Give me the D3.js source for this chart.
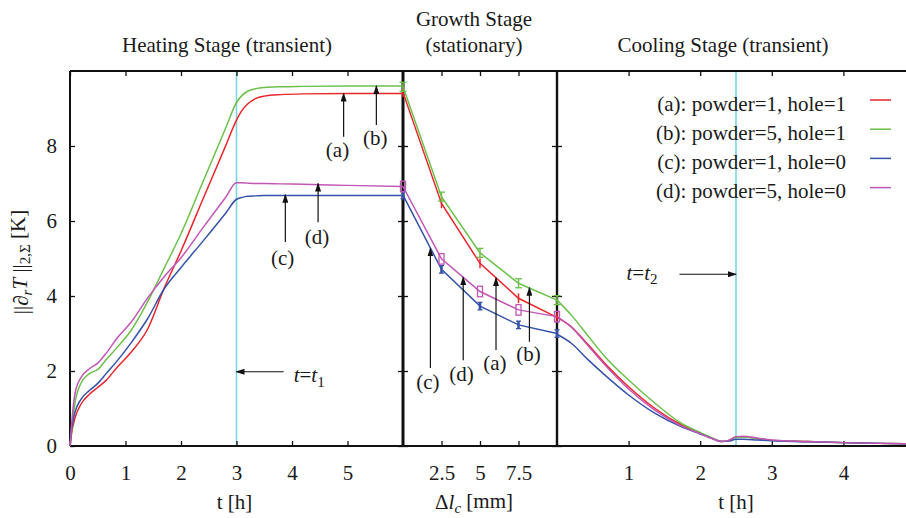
<!DOCTYPE html>
<html>
<head>
<meta charset="utf-8">
<script src="https://cdn.jsdelivr.net/npm/d3@7"></script>
<style>
body{margin:0;background:#fff;}
svg text{font-family:"Liberation Serif","Times New Roman",serif;font-size:21px;fill:#1a1a1a;}
</style>
</head>
<body>
<svg id="chart" width="906" height="518"></svg>
<script>
// series labels + colours
var seriesNames = ["(a): powder=1, hole=1", "(b): powder=5, hole=1", "(c): powder=1, hole=0", "(d): powder=5, hole=0"];
var seriesColors = ["#e8262b", "#6cc04a", "#3452a8", "#c056b5"];

// heating stage, t [h]
var heatT = [0,0.03,0.09,0.2,0.35,0.5,0.65,0.85,1.1,1.4,1.7,2.0,2.4,2.8,3.0,3.1,3.2,3.35,3.5,3.8,4.2,5,6];
var heatA = [0,0.35,0.75,1.12,1.38,1.56,1.75,2.1,2.5,3.12,4.22,5.2,6.6,7.99,8.69,8.95,9.12,9.27,9.33,9.37,9.39,9.4,9.4];
var heatB = [0,0.4,1.15,1.68,1.93,2.04,2.3,2.63,3.08,3.85,4.75,5.66,7.06,8.46,9.16,9.35,9.46,9.53,9.56,9.58,9.59,9.6,9.6];
var heatC = [0,0.45,0.9,1.25,1.48,1.67,1.93,2.27,2.75,3.4,4.2,4.76,5.47,6.2,6.58,6.63,6.66,6.67,6.68,6.68,6.68,6.68,6.68];
var heatD = [0,0.6,1.4,1.83,2.06,2.21,2.47,2.88,3.3,3.95,4.52,5.02,5.83,6.62,7.02,7.02,7.01,7.0,7.0,6.99,6.98,6.95,6.92];

// growth stage, delta l_c [mm]
var growthX = [0,2.5,5,7.5,10];
var growthA = [9.43,6.47,4.87,3.94,3.43];
var growthB = [9.58,6.65,5.15,4.34,3.89];
var growthC = [6.69,4.71,3.73,3.23,3.0];
var growthD = [6.92,4.99,4.12,3.63,3.45];
var growthErr = [0.13,0.12,0.1,0.14];

// cooling stage, t [h]
var coolT = [0,0.2,0.44,0.67,1.0,1.37,1.74,2.0,2.15,2.3,2.4,2.5,2.6,2.8,3.0,3.5,4.0,4.5,5.0];
var coolA = [3.43,3.18,2.69,2.2,1.58,1.0,0.56,0.34,0.22,0.12,0.15,0.24,0.25,0.2,0.15,0.12,0.09,0.07,0.06];
var coolB = [3.89,3.49,2.92,2.38,1.76,1.14,0.6,0.36,0.23,0.12,0.15,0.23,0.24,0.2,0.15,0.12,0.09,0.07,0.06];
var coolC = [2.98,2.74,2.29,1.89,1.36,0.87,0.51,0.32,0.21,0.12,0.13,0.18,0.18,0.16,0.14,0.11,0.09,0.07,0.06];
var coolD = [3.45,3.17,2.66,2.16,1.52,0.95,0.53,0.33,0.21,0.12,0.15,0.25,0.26,0.21,0.16,0.12,0.09,0.07,0.06];

// t1 and t2
var t1 = 3;
var t2 = 2.5;

// ticks
var yTicks = [0,2,4,6,8];
var heatTicks = [0,1,2,3,4,5];
var growthTicks = [2.5,5,7.5];
var coolTicks = [1,2,3,4];

// annotations: [x0, y0, x1, y1] in data units (tip is x1,y1)
var heatArrows = [[4.93,8.25,4.93,9.4],[5.52,8.56,5.52,9.6],[3.88,5.44,3.88,6.7],[4.47,5.97,4.47,7.0],[3.85,1.98,3.0,1.98]];
var heatLabels = [["(a)",4.82,7.84],["(b)",5.5,8.17],["(c)",3.83,4.96],["(d)",4.45,5.53]];
var growthArrows = [[1.78,2.08,1.78,5.27],[3.91,2.29,3.91,4.5],[6.04,2.56,6.04,4.48],[8.21,2.78,8.21,4.22]];
var growthLabels = [["(c)",1.62,1.67],["(d)",3.8,1.88],["(a)",5.97,2.16],["(b)",8.15,2.42]];
var coolArrows = [[1.71,4.58,2.5,4.58]];

var svg = d3.select("#chart");
var top0 = 71, bot0 = 446;

var y = d3.scaleLinear().domain([0,10]).range([bot0, top0]);
var x1 = d3.scaleLinear().domain([0,6]).range([70,403]);
var x2 = d3.scaleLinear().domain([0,10]).range([403,557]);
var x3 = d3.scaleLinear().domain([0,5]).range([557,915]);

svg.append("defs").append("marker")
  .attr("id","arr").attr("markerUnits","userSpaceOnUse")
  .attr("markerWidth",9).attr("markerHeight",6).attr("refX",8).attr("refY",3)
  .attr("orient","auto")
  .append("path").attr("d","M0,0L9,3L0,6Z").attr("fill","#111");

// stage lines (cyan)
svg.append("line").attr("x1",x1(t1)).attr("x2",x1(t1)).attr("y1",y(0)).attr("y2",y(10))
  .attr("stroke","#7dd3e3").attr("stroke-width",1.6);
svg.append("line").attr("x1",x3(t2)).attr("x2",x3(t2)).attr("y1",y(0)).attr("y2",y(10))
  .attr("stroke","#7dd3e3").attr("stroke-width",1.6);

// axes ---------------------------------------------------------
var tickStyle = function(g){
  g.select(".domain").remove();
  g.selectAll("line").attr("stroke","#111").attr("stroke-width",1.3);
  g.selectAll("text").attr("fill","#1a1a1a").style("font-size","21px")
   .style("font-family","'Liberation Serif',serif");
}

var bottomAxis = function(sc, vals){
  svg.append("g").attr("transform","translate(0,"+bot0+")")
    .call(d3.axisBottom(sc).tickValues(vals).tickSizeInner(-5).tickSizeOuter(0).tickPadding(19).tickFormat(d3.format("")))
    .call(tickStyle);
  svg.append("g").attr("transform","translate(0,"+top0+")")
    .call(d3.axisTop(sc).tickValues(vals).tickSizeInner(-5).tickSizeOuter(0).tickFormat(""))
    .call(tickStyle);
}
bottomAxis(x1, heatTicks);
bottomAxis(x2, growthTicks);
bottomAxis(x3, coolTicks);

svg.append("g").attr("transform","translate(70,0)")
  .call(d3.axisLeft(y).tickValues(yTicks).tickSizeInner(-5).tickSizeOuter(0).tickPadding(13))
  .call(tickStyle);
svg.selectAll("g text").filter(function(){return false;});

// ticks on panel edges (both sides of separators)
[403,557].forEach(function(xx){
  svg.append("g").attr("transform","translate("+xx+",0)")
    .call(d3.axisLeft(y).tickValues(yTicks).tickSizeInner(-5).tickSizeOuter(0).tickFormat(""))
    .call(tickStyle);
  svg.append("g").attr("transform","translate("+xx+",0)")
    .call(d3.axisRight(y).tickValues(yTicks).tickSizeInner(-5).tickSizeOuter(0).tickFormat(""))
    .call(tickStyle);
});

// frame
svg.append("line").attr("x1",70).attr("x2",906).attr("y1",top0).attr("y2",top0).attr("stroke","#111").attr("stroke-width",2);
svg.append("line").attr("x1",70).attr("x2",906).attr("y1",bot0).attr("y2",bot0).attr("stroke","#111").attr("stroke-width",2);
svg.append("line").attr("x1",70).attr("x2",70).attr("y1",top0).attr("y2",bot0).attr("stroke","#111").attr("stroke-width",2);
svg.append("line").attr("x1",403).attr("x2",403).attr("y1",top0).attr("y2",bot0).attr("stroke","#111").attr("stroke-width",3);
svg.append("line").attr("x1",557).attr("x2",557).attr("y1",top0).attr("y2",bot0).attr("stroke","#111").attr("stroke-width",2.4);

// curves -------------------------------------------------------
var drawSeries = function(xs, xv, list, curve){
  list.forEach(function(vals,i){
    var pts = xv.map(function(d,j){return [d, vals[j]];});
    var line = d3.line().x(function(d){return xs(d[0]);}).y(function(d){return y(d[1]);}).curve(curve);
    svg.append("path").datum(pts).attr("d",line)
      .attr("fill","none").attr("stroke",seriesColors[i]).attr("stroke-width",1.5);
  });
}
drawSeries(x1, heatT, [heatA,heatB,heatC,heatD], d3.curveMonotoneX);
drawSeries(x3, coolT, [coolA,coolB,coolC,coolD], d3.curveMonotoneX);
drawSeries(x2, growthX, [growthA,growthB,growthC,growthD], d3.curveLinear);

// error markers in growth stage
[growthA,growthB,growthC,growthD].forEach(function(vals,i){
  var e = growthErr[i], col = seriesColors[i];
  var g = svg.append("g");
  growthX.forEach(function(xv,j){
    var cx = x2(xv), ya = y(vals[j]+e), yb = y(vals[j]-e);
    if (i==3){
      g.append("rect").attr("x",cx-2.5).attr("y",ya).attr("width",5).attr("height",yb-ya)
        .attr("fill","none").attr("stroke",col).attr("stroke-width",1.3);
      return;
    }
    g.append("line").attr("x1",cx).attr("x2",cx).attr("y1",ya).attr("y2",yb)
      .attr("stroke",col).attr("stroke-width", i==2 ? 2.6 : 1.5);
    if (i>0){
      var w = i==1 ? 3.5 : 2.5;
      g.append("line").attr("x1",cx-w).attr("x2",cx+w).attr("y1",ya).attr("y2",ya).attr("stroke",col).attr("stroke-width",1.3);
      g.append("line").attr("x1",cx-w).attr("x2",cx+w).attr("y1",yb).attr("y2",yb).attr("stroke",col).attr("stroke-width",1.3);
    }
  });
});

// annotations --------------------------------------------------
var drawArrows = function(xs, list){
  list.forEach(function(a){
    svg.append("line").attr("x1",xs(a[0])).attr("y1",y(a[1])).attr("x2",xs(a[2])).attr("y2",y(a[3]))
      .attr("stroke","#111").attr("stroke-width",1.2).attr("marker-end","url(#arr)");
  });
}
var drawLabels = function(xs, list){
  svg.selectAll(null).data(list).enter().append("text")
    .attr("x",function(d){return xs(d[1]);}).attr("y",function(d){return y(d[2]);})
    .attr("dy","0.26em").attr("text-anchor","middle").text(function(d){return d[0];});
}
drawArrows(x1, heatArrows);
drawArrows(x2, growthArrows);
drawArrows(x3, coolArrows);
drawLabels(x1, heatLabels);
drawLabels(x2, growthLabels);

var tLabel = function(xx, yy, sub){
  var t = svg.append("text").attr("x",xx).attr("y",yy).attr("dy","0.3em");
  t.append("tspan").style("font-style","italic").text("t");
  t.append("tspan").text("=");
  t.append("tspan").style("font-style","italic").text("t");
  t.append("tspan").attr("dy","0.3em").style("font-size","15px").text(sub);
}
tLabel(x1(4.03), y(1.87), "1");
tLabel(x3(0.97), y(4.6), "2");

// titles
svg.append("text").attr("x",227).attr("y",52).attr("text-anchor","middle").text("Heating Stage (transient)");
svg.append("text").attr("x",474).attr("y",26).attr("text-anchor","middle").text("Growth Stage");
svg.append("text").attr("x",474).attr("y",52).attr("text-anchor","middle").text("(stationary)");
svg.append("text").attr("x",723).attr("y",52).attr("text-anchor","middle").text("Cooling Stage (transient)");

// axis titles
svg.append("text").attr("x",(x1.range()[0]+x1.range()[1])/2-2).attr("y",509).attr("text-anchor","middle").text("t [h]");
svg.append("text").attr("x",(x3.range()[0]+x3.range()[1])/2).attr("y",509).attr("text-anchor","middle").text("t [h]");
var dl = svg.append("text").attr("x",474).attr("y",509).attr("text-anchor","middle");
dl.append("tspan").text("\u0394");
dl.append("tspan").style("font-style","italic").text("l");
dl.append("tspan").attr("dy","0.25em").style("font-size","15px").style("font-style","italic").text("c");
dl.append("tspan").attr("dy","-0.25em").text(" [mm]");

var yl = svg.append("text").attr("transform","translate(28,262) rotate(-90)").attr("text-anchor","middle");
yl.append("tspan").text("||\u2202");
yl.append("tspan").attr("dy","0.25em").style("font-size","15px").style("font-style","italic").text("r");
yl.append("tspan").attr("dy","-0.25em").style("font-style","italic").text("T");
yl.append("tspan").text(" ||");
yl.append("tspan").attr("dy","0.25em").style("font-size","15px").text("2,\u03a3");
yl.append("tspan").attr("dy","-0.25em").text(" [K]");

// legend
var legendTop = 100, legendStep = 29.2;
var lg = svg.append("g");
seriesNames.forEach(function(n,i){
  var ly = legendTop + i*legendStep;
  lg.append("text").attr("x",846).attr("y",ly).attr("dy","0.5em").attr("text-anchor","end").text(n);
  lg.append("line").attr("x1",870).attr("x2",891).attr("y1",ly).attr("y2",ly)
    .attr("stroke",seriesColors[i]).attr("stroke-width",1.5);
});
</script>
</body>
</html>
